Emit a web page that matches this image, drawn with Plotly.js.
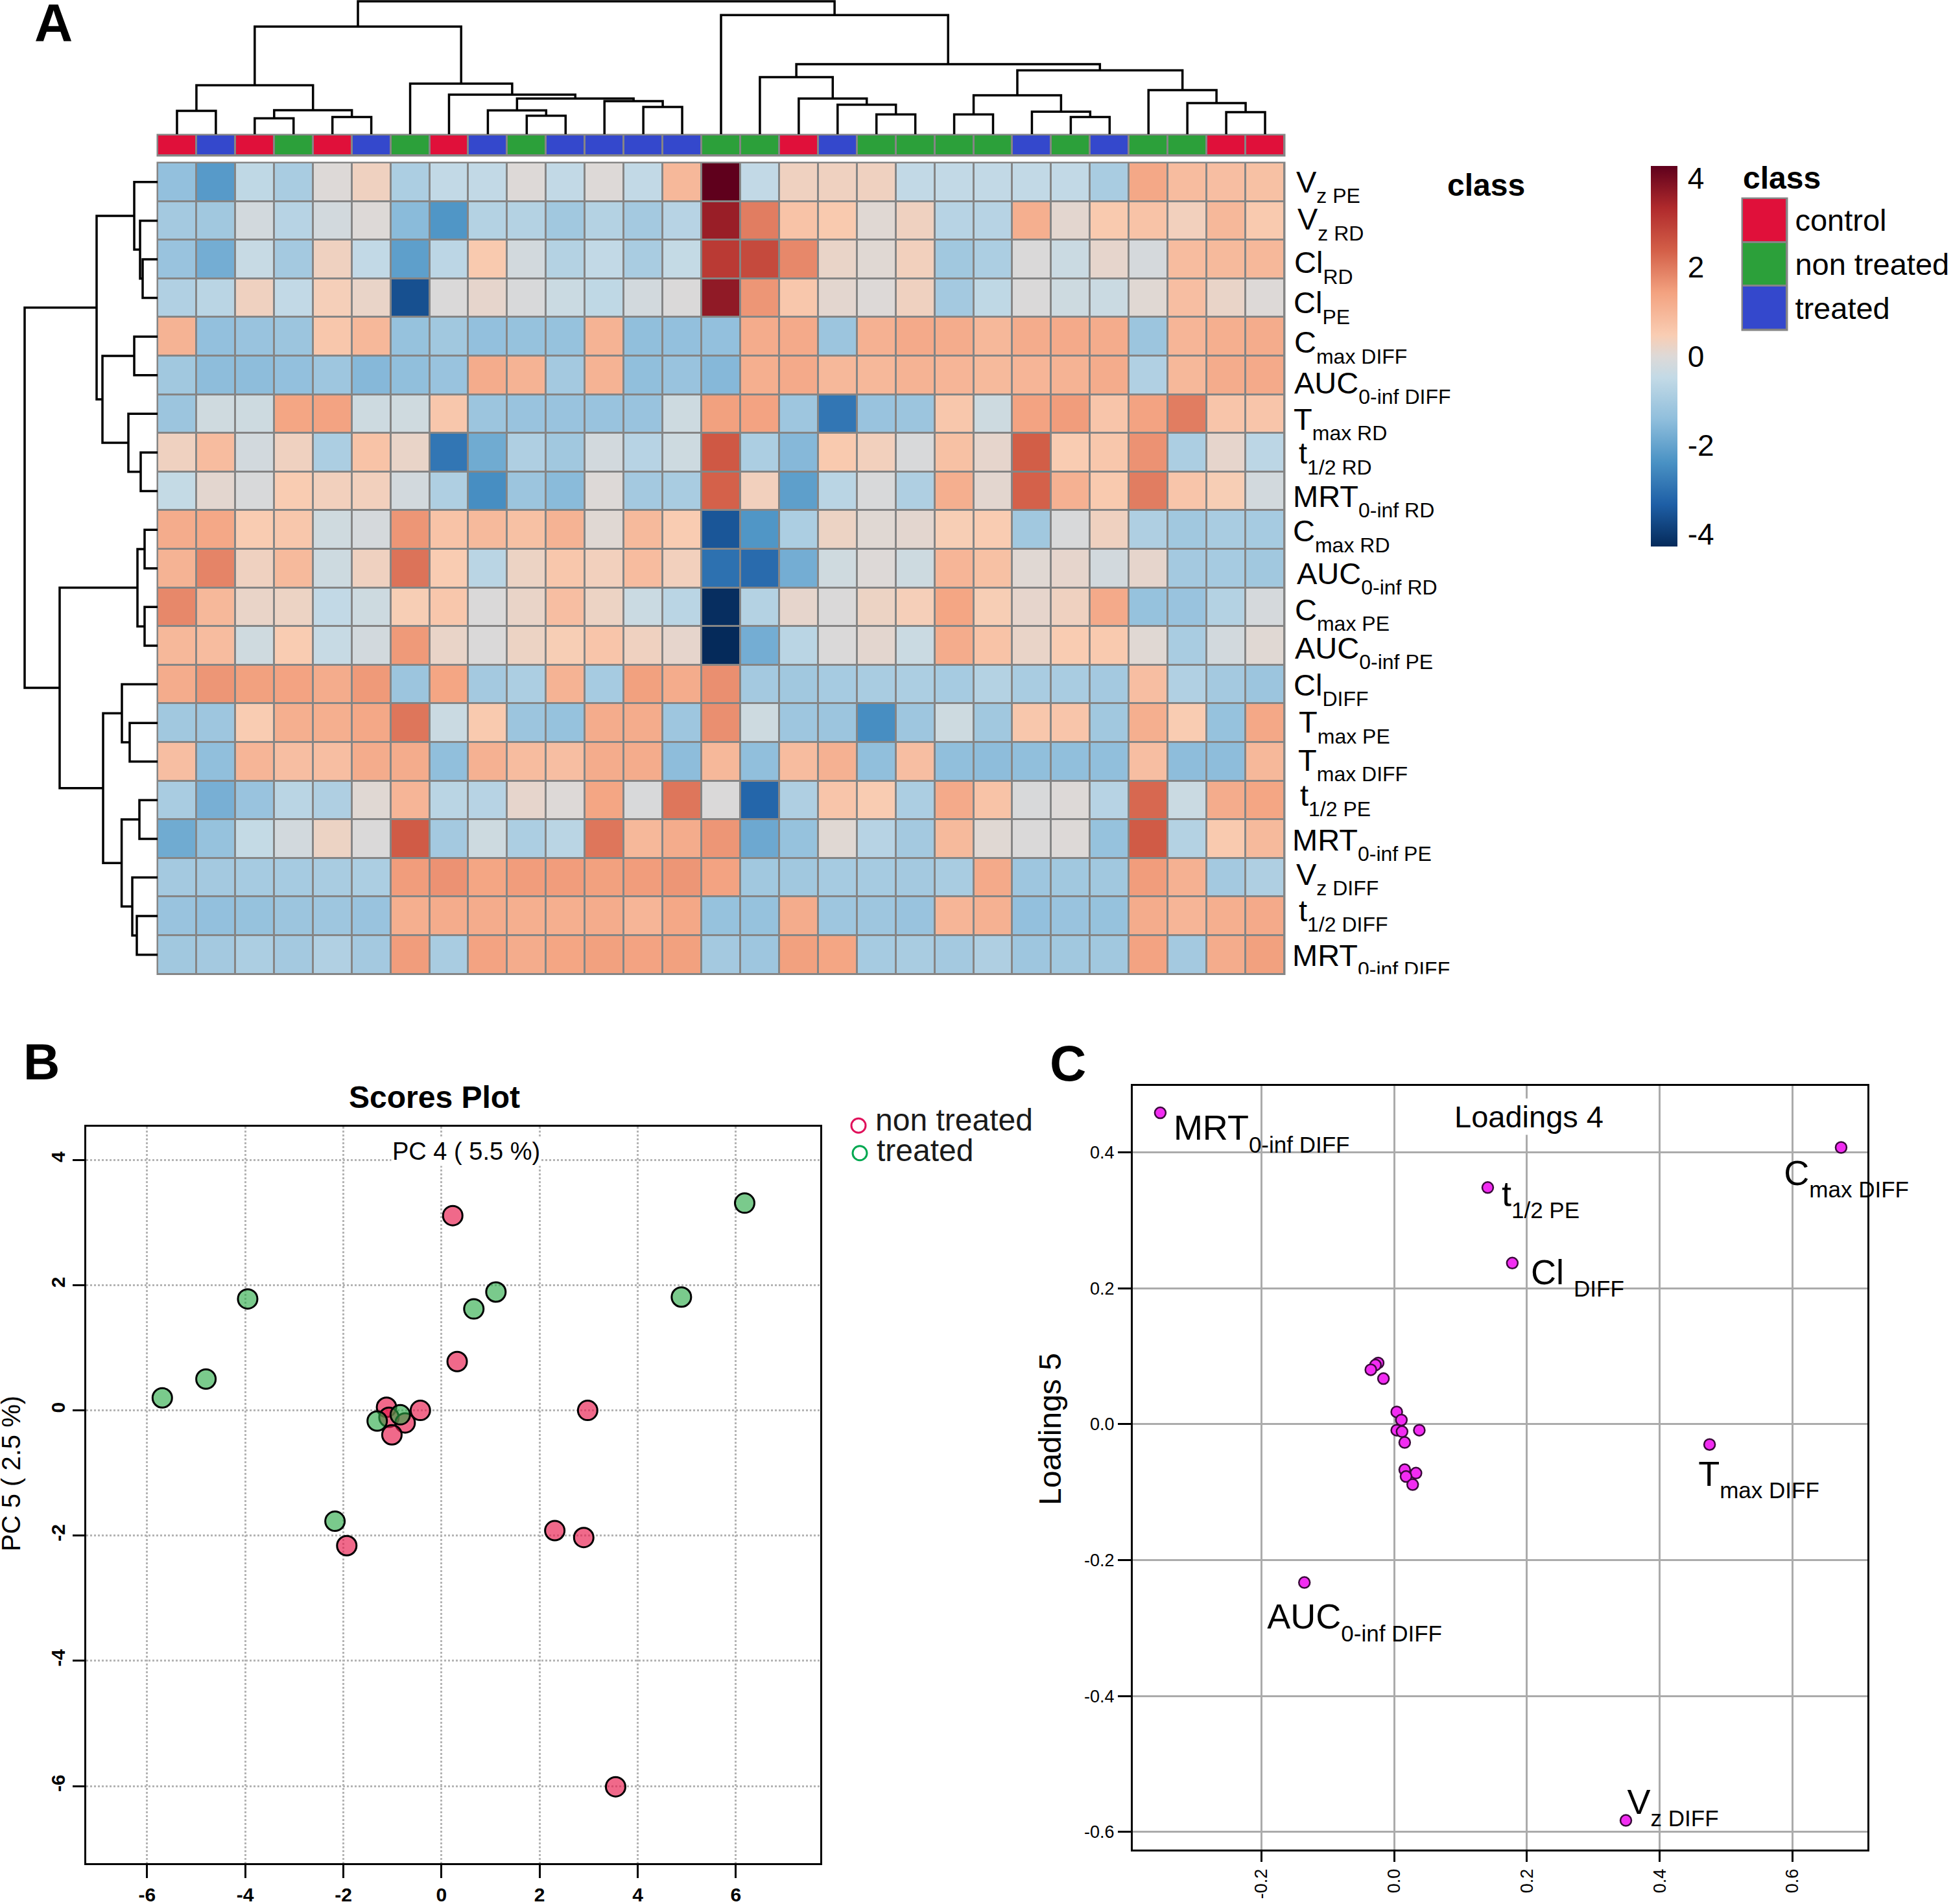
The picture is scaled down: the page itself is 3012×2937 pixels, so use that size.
<!DOCTYPE html>
<html><head><meta charset="utf-8">
<script src="https://cdn.plot.ly/plotly-3.0.1.min.js"></script>
<style>html,body{margin:0;padding:0;background:#fff}</style></head>
<body><div id="chart" style="width:3012px;height:2937px"></div>
<script>
// ---------- Panel A data ----------
const subA = s => `<sub><sub><span style="font-size:32px">${s}</span></sub></sub>`;
const rowLabels = ["V"+subA("z PE"),"V"+subA("z RD"),"Cl"+subA("RD"),"Cl"+subA("PE"),"C"+subA("max DIFF"),"AUC"+subA("0-inf DIFF"),"T"+subA("max RD"),"t"+subA("1/2 RD"),"MRT"+subA("0-inf RD"),"C"+subA("max RD"),"AUC"+subA("0-inf RD"),"C"+subA("max PE"),"AUC"+subA("0-inf PE"),"Cl"+subA("DIFF"),"T"+subA("max PE"),"T"+subA("max DIFF"),"t"+subA("1/2 PE"),"MRT"+subA("0-inf PE"),"V"+subA("z DIFF"),"t"+subA("1/2 DIFF"),"MRT"+subA("0-inf DIFF")];
const classNames = ["control","non treated","treated"];
const classColors = ["#E0103A","#2CA03A","#3448CC"];
const sampleClass = [0,2,0,1,0,2,1,0,2,1,2,2,2,2,1,1,0,2,1,1,1,1,2,1,2,1,1,0,0];
const heat = [
[-1.35,-2.2,-0.55,-0.95,0,0.3,-0.9,-0.5,-0.5,0,-0.5,0,-0.5,0.95,4.28,-0.5,0.3,0.3,0.3,-0.5,-0.5,-0.5,-0.5,-0.5,-0.95,1.3,0.85,0.8,0.75],
[-1.05,-1.1,-0.2,-0.7,-0.2,0,-1.5,-2.3,-0.75,-0.75,-1.1,-0.75,-1.05,-0.7,3.6,1.95,0.7,0.55,0.05,0.3,-0.7,-0.7,1.15,0.1,0.55,0.7,0.35,0.95,0.55],
[-1.25,-1.8,-0.4,-1.05,0.3,-0.5,-2.1,-0.6,0.55,-0.2,-0.75,-0.5,-0.95,-0.45,3.05,2.75,1.8,0.2,0.05,0.35,-1.1,-0.9,-0.05,-0.35,0.15,-0.15,0.85,0.9,0.95],
[-0.8,-0.65,0.3,-0.5,0.4,0.2,-3.6,-0.05,0.15,-0.1,-0.35,-0.55,-0.2,-0.05,3.7,1.6,0.6,0.1,0,0.3,-1.05,-0.55,-0.05,-0.3,-0.35,0.05,0.8,0.2,0],
[1.05,-1.35,-1.25,-1.2,0.6,0.95,-1.3,-1.1,-1.35,-1.3,-1.3,1.05,-1.4,-1.35,-1.35,1.2,1.25,-1.2,1.1,1.25,1.2,0.95,1.2,1.25,1.2,-1.2,1,1.15,1.2],
[-1.1,-1.45,-1.45,-1.35,-1.15,-1.55,-1.4,-1.25,1.2,1.05,-1.05,1.05,-1.4,-1.25,-1.55,1.15,1.25,0.95,0.95,1.05,1,0.9,1,1.05,1.2,-0.8,0.95,1.2,1.25],
[-1.2,-0.25,-0.3,1.35,1.4,-0.3,-0.25,0.6,-1.2,-1.25,-1.25,-1.25,-1.25,-0.3,1.45,1.4,-1.15,-2.9,-1.25,-1.2,0.6,-0.3,1.4,1.5,0.65,1.4,1.95,0.65,0.65],
[0.3,0.85,-0.2,0.3,-0.9,0.7,0.2,-2.9,-1.85,-0.85,-1.1,-0.2,-0.7,-0.3,2.5,-0.9,-1.55,0.55,0.35,-0.1,0.75,0.15,2.4,0.5,0.6,1.65,-0.9,0.15,-0.6],
[-0.45,0.1,-0.1,0.5,0.35,0.35,-0.2,-0.85,-2.45,-1.2,-1.5,0,-1.05,-0.95,2.35,0.35,-2.1,-0.65,-0.1,-0.85,1.15,0.1,2.35,1.1,0.55,1.95,0.65,0.45,-0.2],
[1.2,1.3,0.5,0.6,-0.25,-0.15,1.6,0.7,0.9,0.75,1.05,0.05,0.9,0.5,-3.5,-2.3,-0.9,0.25,0.05,0.1,0.45,0.5,-1.1,-0.1,0.3,-0.85,-1.1,-0.95,-1],
[1.05,1.85,0.3,0.9,-0.3,0.3,2.1,0.5,-0.65,0.25,0.6,0.35,0.85,0.35,-3,-3.1,-1.8,-0.25,0,-0.3,1,0.75,0.05,0.15,-0.2,0.15,-1.05,-1,-1.1],
[1.8,0.95,0.2,0.25,-0.5,-0.3,0.45,0.6,-0.05,0.2,0.8,0.25,-0.35,-0.65,-4.2,-0.75,0.15,-0.05,0.25,0.4,1.35,0.45,0.15,0.3,1.25,-1.3,-1.25,-0.75,-0.15],
[0.95,0.85,-0.25,0.5,-0.4,-0.2,1.55,0.2,-0.05,0.25,0.45,0.65,0.3,0.15,-4.28,-1.8,-0.65,-0.05,0.1,-0.35,1.2,0.7,0.2,0.5,0.55,0.05,-0.95,-0.2,0.05],
[1.2,1.6,1.45,1.4,1.2,1.55,-1.2,1.35,-1.05,-0.9,1.05,-1,1.45,1.2,1.7,-1.05,-1.1,-1,-0.95,-0.9,-1,-0.75,-0.95,-0.95,-1.05,0.8,-0.8,-1.05,-1.2],
[-1.1,-1.15,0.5,1.15,1.15,1.3,2.05,-0.35,0.55,-1.2,-1.3,1.2,1.2,-1.15,1.7,-0.3,-1.15,-1.2,-2.45,-1.15,-0.3,-1.1,0.6,0.65,-1.1,1.15,0.5,-1.3,1.3],
[0.8,-1.4,1,0.8,0.8,1.2,1.2,-1.4,1.1,0.85,0.8,1.2,1.2,-1.45,0.95,-1.4,0.85,1.1,-1.4,0.8,-1.4,-1.45,-1.4,-1.4,-1.4,0.8,-1.45,-1.45,0.95],
[-0.95,-1.75,-1.25,-0.65,-0.85,0.05,1,-0.65,-0.7,0.15,0,1.35,-0.1,2.05,-0.05,-3.2,-0.85,0.65,0.5,-0.9,1.25,0.7,-0.1,0,-0.7,2.25,-0.35,1.2,1.35],
[-1.85,-1.3,-0.45,-0.2,0.25,-0.05,2.45,-1.05,-0.3,-0.9,-0.65,2.05,0.95,1.2,1.6,-1.9,-1.3,0.05,-0.7,-1.05,0.9,0.05,-0.05,0,-1.3,2.45,-0.75,0.55,0.9],
[-1.05,-1.05,-1,-1,-0.95,-0.9,1.5,1.65,1.35,1.5,1.5,1.45,1.5,1.6,1.4,-1.1,-1.1,-1,-1,-1.05,-0.95,1.25,-1.15,-1.1,-1.1,1.5,1.1,-1.05,-0.85],
[-1.25,-1.35,-1.3,-1.2,-1.15,-1.25,1.15,1.2,1.2,1.15,1.15,1.2,1,1.3,-1.3,-1.3,1.2,-1.15,-1.15,-1.25,1,1.1,-1.35,-1.25,-1.3,1.2,1,1.15,1.25],
[-1.1,-1.05,-0.9,-1.05,-0.8,-1.05,1.5,-0.95,1.4,1.2,1.35,1.45,1.4,1.45,-1.05,-1.15,1.45,1.35,-1,-0.95,-1.05,-0.85,-1.15,-1.1,-1.1,1.4,-1.05,1.2,1.45]
];
// Dendrograms as nested [left, right, height]; numbers are leaf indices
const colTree = [
  [ [[0,1,36],[[2,3,24.5],[4,5,26.5],37],75.5],
    [6,[7,[[8,[9,10,28.6],36.7],[11,[12,13,42],51],55],61],78], 166],
  [14,[[15,[16,[17,[18,19,30.6],45.4],55],88],
       [[[20,21,30.6],[22,[23,24,26.5],34.7],60],[25,[26,[27,28,34],48],68],98.5],108],183.7],
  205];
const rowTree = [
  [ [0,[1,[2,3,23],27],36], [[4,5,36],[6,[7,8,26],45],85], 94],
  [ [[9,10,20],[11,12,20],31],
    [[13,[14,15,43],55],[[16,17,28],[18,[19,20,32],39],55.4],84], 151],
  205];
const colorStopValues = [-4.28,-3.33,-2.38,-1.43,-0.476,0,0.476,1.43,2.38,3.33,4.28];
const colorStopColors = ["#052A5A","#1E5FA6","#4A92C4","#8FBEDC","#C3DAE6","#DDD9D7","#F9CDB3","#F3A280","#D35F48","#B02A2C","#5F001C"];
const colorbarTicks = [-4,-2,0,2,4];
const colorbarTickText = ["-4","-2","0","2","4"];
// ---------- Panel B data ----------
const scoresNames = ["non treated","treated"];
const nonTreatedX = [0.23,0.32,-1.12,-1.07,-0.74,-0.43,-1.01,2.98,2.31,2.9,-1.93,3.55];
const nonTreatedY = [3.11,0.78,0.05,-0.11,-0.2,0,-0.39,0,-1.92,-2.03,-2.16,-6.01];
const treatedX = [6.18,4.89,1.11,0.66,-3.95,-4.8,-5.69,-1.31,-0.84,-2.17];
const treatedY = [3.31,1.81,1.89,1.62,1.78,0.5,0.2,-0.17,-0.07,-1.77];
const scoresXTicks = [-6,-4,-2,0,2,4,6];
const scoresYTicks = [-6,-4,-2,0,2,4];
// ---------- Panel C data ----------
const loadingX = [-0.352,0.673,0.141,0.178,-0.024,-0.028,-0.035,-0.016,0.004,0.011,0.004,0.012,0.038,0.016,0.016,0.033,0.018,0.028,0.475,-0.135,0.349];
const loadingY = [0.458,0.407,0.348,0.237,0.09,0.087,0.08,0.067,0.018,0.006,-0.009,-0.011,-0.009,-0.027,-0.067,-0.072,-0.077,-0.089,-0.03,-0.233,-0.583];
const subC = s => `<sub><sub><span style="font-size:35px">${s}</span></sub></sub>`;
const loadingLabels = ["MRT"+subC("0-inf DIFF"),"t"+subC("1/2 PE"),"C"+subC("max DIFF"),"Cl&nbsp;"+subC("DIFF"),"T"+subC("max DIFF"),"AUC"+subC("0-inf DIFF"),"V"+subC("z DIFF")];
const loadingLabelX = [-0.332,0.162,0.587,0.206,0.458,-0.191,0.351];
const loadingLabelY = [0.431,0.334,0.365,0.219,-0.078,-0.288,-0.560];

// ---------- layout helpers (figure pixels to paper) ----------
const W = 3012, H = 2937;
const domX = (a,b) => [a/W, b/W];
const domY = (top,bot) => [1-bot/H, 1-top/H];
const FONT = '"Liberation Sans", Arial, sans-serif';
const GREY = '#858585';
const hidden = (domain, range) => ({domain, range, visible:false, fixedrange:true, showgrid:false, zeroline:false});

function treeSegments(tree){
  const a=[], h=[];
  (function walk(n){
    if(typeof n==='number') return {pos:n+0.5, ht:0};
    const l=walk(n[0]), r=walk(n[1]), t=n[2];
    a.push(l.pos,l.pos,r.pos,r.pos,null); h.push(l.ht,t,t,r.ht,null);
    return {pos:(l.pos+r.pos)/2, ht:t};
  })(tree);
  return {a,h};
}
const colSeg = treeSegments(colTree), rowSeg = treeSegments(rowTree);
const nRow = heat.length, nCol = heat[0].length;
const centers = n => Array.from({length:n},(_,i)=>i+0.5);
const zSpan = colorStopValues[colorStopValues.length-1]-colorStopValues[0];
const heatScale = colorStopValues.map((v,i)=>[(v-colorStopValues[0])/zSpan,colorStopColors[i]]);
const classScale = [];
classColors.forEach((c,i)=>{classScale.push([i/3,c]);classScale.push([(i+1)/3,c]);});

const labelEdgeGap = [18,20,15,14,15,15,14,22,13,13,19,16,16,14,22,21,24,12,18,22,12];
const labelBaseline = [13,10.6,18,20.4,22.3,25.2,21.6,14.5,21.4,15,21,17.6,17,14.4,12.3,11.2,5.6,15,8.4,4.8,14.2];
const rowPx = 59.6;

const traces = [
 {type:'heatmap', x:centers(nCol), y:centers(nRow), z:heat, xaxis:'x', yaxis:'y', xgap:3, ygap:3,
  colorscale:heatScale, zmin:-4.28, zmax:4.28, hoverinfo:'z',
  colorbar:{x:2546/W, xanchor:'left', xpad:0, y:1-549.5/H, yanchor:'middle', ypad:0, lenmode:'pixels', len:587,
    thicknessmode:'pixels', thickness:41, outlinewidth:0, tickmode:'array', tickvals:colorbarTicks, ticktext:colorbarTickText, ticks:'outside', ticklen:7, tickcolor:'rgba(0,0,0,0)',
    tickfont:{family:FONT,size:46,color:'#000'}}},
 {type:'heatmap', x:centers(nCol), y:[0.5], z:[sampleClass], xaxis:'x2', yaxis:'y2', xgap:3, ygap:3,
  colorscale:classScale, zmin:0, zmax:3, showscale:false, hoverinfo:'skip', zsmooth:false},
 {type:'scatter', mode:'lines', x:colSeg.a, y:colSeg.h, xaxis:'x3', yaxis:'y3', line:{color:'#000',width:3.5}, hoverinfo:'skip', showlegend:false, connectgaps:false},
 {type:'scatter', mode:'lines', x:rowSeg.h, y:rowSeg.a, xaxis:'x4', yaxis:'y4', line:{color:'#000',width:3.5}, hoverinfo:'skip', showlegend:false, connectgaps:false},
 {type:'scatter', mode:'text', x:labelEdgeGap, y:labelBaseline.map((b,i)=>i+0.5+(b-9)/rowPx), text:rowLabels, xaxis:'x5', yaxis:'y5',
  textposition:'middle right', textfont:{family:FONT,size:47,color:'#000'}, cliponaxis:true, hoverinfo:'skip', showlegend:false},
 {type:'heatmap', x:[0.5], y:[0.5,1.5,2.5], z:[[0],[1],[2]], xaxis:'x6', yaxis:'y6', xgap:3, ygap:3,
  colorscale:classScale, zmin:0, zmax:3, showscale:false, hoverinfo:'skip'},
 {type:'scatter', mode:'markers', x:nonTreatedX, y:nonTreatedY, xaxis:'x7', yaxis:'y7', name:scoresNames[0], showlegend:false,
  marker:{size:30,color:'rgba(232,24,76,0.65)',line:{color:'#000',width:3}}},
 {type:'scatter', mode:'markers', x:treatedX, y:treatedY, xaxis:'x7', yaxis:'y7', name:scoresNames[1], showlegend:false,
  marker:{size:30,color:'rgba(40,170,70,0.62)',line:{color:'#000',width:3}}},
 {type:'scatter', mode:'markers', x:loadingX, y:loadingY, xaxis:'x8', yaxis:'y8', showlegend:false,
  marker:{size:17,color:'#F22CF2',line:{color:'#3A0A3A',width:2.5}}},
 {type:'scatter', mode:'text', x:loadingLabelX, y:loadingLabelY, text:loadingLabels, xaxis:'x8', yaxis:'y8', showlegend:false,
  textposition:'middle right', cliponaxis:false, textfont:{family:FONT,size:54,color:'#000'}, hoverinfo:'skip'},
 {type:'scatter', mode:'markers', x:[14,16], y:[1,0], xaxis:'x9', yaxis:'y9', showlegend:false, cliponaxis:false, hoverinfo:'skip',
  marker:{size:22,color:'rgba(0,0,0,0)',line:{color:['#E0105A','#00A850'],width:3}}},
 {type:'scatter', mode:'text', x:[40,42], y:[1.1,0], text:scoresNames, xaxis:'x9', yaxis:'y9', showlegend:false,
  textposition:'middle right', cliponaxis:false, textfont:{family:FONT,size:48,color:'#1a1a1a'}, hoverinfo:'skip'}
];

const boxAxis = (o) => Object.assign({showline:true, mirror:true, linecolor:'#000', linewidth:3, ticks:'outside', tickcolor:'#000', tickwidth:3,
  zeroline:false, showgrid:true, fixedrange:true, tickmode:'array', automargin:false}, o);

const layout = {
 width:W, height:H, autosize:false, margin:{l:0,r:0,t:0,b:0,pad:0}, paper_bgcolor:'#fff', plot_bgcolor:'rgba(0,0,0,0)',
 font:{family:FONT,color:'#000'}, showlegend:false, hovermode:false,
 xaxis:hidden(domX(243,1981),[0,nCol]), yaxis:hidden(domY(251,1502.5),[nRow,0]),
 xaxis2:hidden(domX(243,1981),[0,nCol]), yaxis2:hidden(domY(208,240),[1,0]),
 xaxis3:hidden(domX(243,1981),[0,nCol]), yaxis3:hidden(domY(0,207),[0,207]),
 xaxis4:hidden(domX(0,243),[243,0]), yaxis4:hidden(domY(251,1502.5),[nRow,0]),
 xaxis5:hidden(domX(1981,2420),[0,439]), yaxis5:hidden(domY(251,1502.5),[nRow,0]),
 xaxis6:hidden(domX(2687,2756),[0,1]),
 yaxis6:{domain:domY(306,509), range:[3,0], side:'right', anchor:'x6', showgrid:false, zeroline:false, fixedrange:true, showline:false,
   tickmode:'array', tickvals:[0.5,1.5,2.5], ticktext:classNames, ticks:'outside', ticklen:2, tickcolor:'rgba(0,0,0,0)', tickfont:{family:FONT,size:47,color:'#000'}},
 xaxis7:boxAxis({domain:domX(133,1265), range:[-7.24,7.72], anchor:'y7', tickvals:scoresXTicks, ticktext:scoresXTicks.map(String), ticklen:20,
   griddash:'dot', gridcolor:'#b4b4b4', gridwidth:3, tickfont:{family:FONT,size:30,weight:'bold'}}),
 yaxis7:boxAxis({domain:domY(1738,2874), range:[-7.23,4.53], anchor:'x7', tickvals:scoresYTicks, ticktext:scoresYTicks.map(String), ticklen:18, tickangle:-90,
   griddash:'dot', gridcolor:'#b4b4b4', gridwidth:3, tickfont:{family:FONT,size:30,weight:'bold'}}),
 xaxis8:boxAxis({domain:domX(1747,2880), range:[-0.3934,0.7126], anchor:'y8', tickvals:[-0.2,0,0.2,0.4,0.6], ticktext:['-0.2','0.0','0.2','0.4','0.6'], ticklen:16, tickangle:-90,
   gridcolor:'#ababab', gridwidth:3, tickfont:{family:FONT,size:27}}),
 yaxis8:boxAxis({domain:domY(1675,2853), range:[-0.6258,0.4976], anchor:'x8', tickvals:[-0.6,-0.4,-0.2,0,0.2,0.4], ticktext:['-0.6','-0.4','-0.2','0.0','0.2','0.4'], ticklen:20,
   gridcolor:'#ababab', gridwidth:3, tickfont:{family:FONT,size:27}}),
 xaxis9:hidden(domX(1310,1800),[0,490]), yaxis9:hidden(domY(1715,1800),[-0.5,1.5]),
 shapes:[
  {type:'rect',xref:'paper',yref:'paper',x0:241.5/W,x1:1982.5/W,y0:1-1504/H,y1:1-249.5/H,fillcolor:GREY,line:{width:0},layer:'below'},
  {type:'rect',xref:'paper',yref:'paper',x0:241.5/W,x1:1982.5/W,y0:1-241.5/H,y1:1-206.5/H,fillcolor:GREY,line:{width:0},layer:'below'},
  {type:'rect',xref:'paper',yref:'paper',x0:2685.5/W,x1:2757.5/W,y0:1-510.5/H,y1:1-304.5/H,fillcolor:GREY,line:{width:0},layer:'below'}
 ],
 annotations:[
  {text:'A',x:82/W,y:1-34/H,font:{size:82,weight:'bold'}},
  {text:'B',x:64/W,y:1-1638/H,font:{size:78,weight:'bold'}},
  {text:'C',x:1647/W,y:1-1640/H,font:{size:78,weight:'bold'}},
  {text:'class',x:2230/W,xanchor:'left',y:1-285/H,font:{size:48,weight:'bold'}},
  {text:'class',x:2686/W,xanchor:'left',y:1-274/H,font:{size:48,weight:'bold'}},
  {text:'Scores Plot',x:670/W,y:1-1693/H,font:{size:48,weight:'bold'}},
  {text:'PC 4 ( 5.5 %)',x:719/W,y:1-1776/H,font:{size:38},bgcolor:'#fff'},
  {text:'PC 5 ( 2.5 %)',x:17/W,y:1-2273/H,textangle:-90,font:{size:40}},
  {text:'Loadings 4',x:2358/W,y:1-1722/H,font:{size:47},bgcolor:'#fff'},
  {text:'Loadings 5',x:1619/W,y:1-2205/H,textangle:-90,font:{size:48}}
 ].map(a=>Object.assign({xref:'paper',yref:'paper',showarrow:false,xanchor:'center',yanchor:'middle'},a))
};
Plotly.newPlot('chart',traces,layout,{staticPlot:true,displayModeBar:false});
</script></body></html>
